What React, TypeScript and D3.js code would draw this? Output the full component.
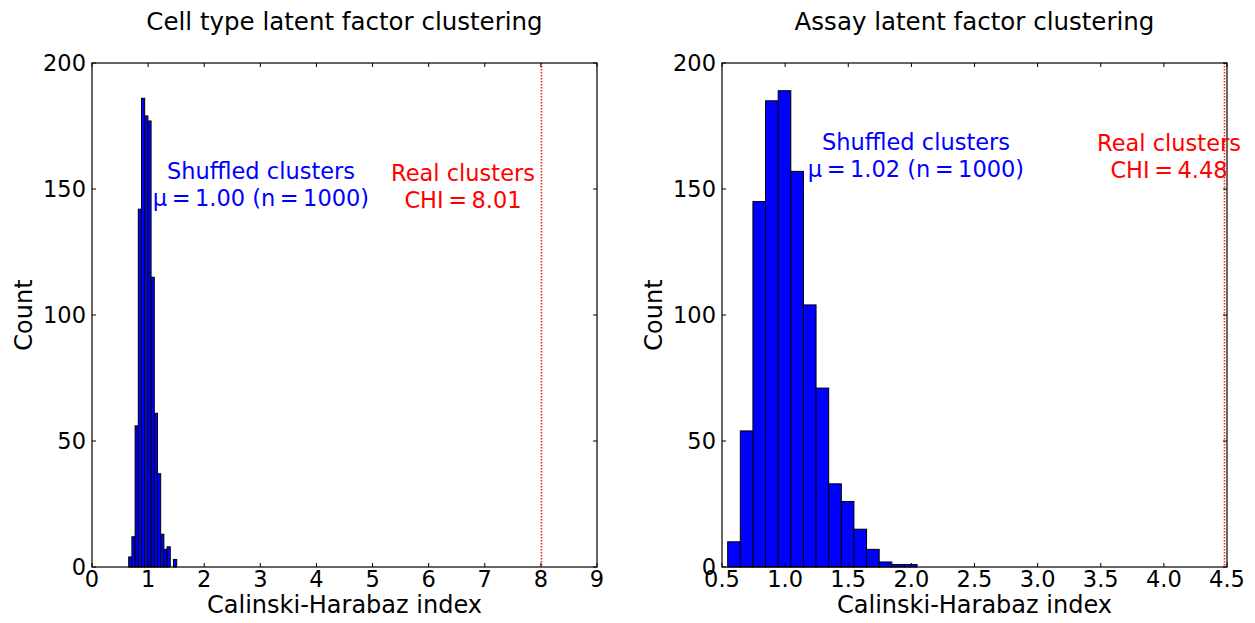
import React from "react";
import * as d3 from "d3";

// Left panel: cell type
const leftTitle = "Cell type latent factor clustering";
const leftEdges = [0.654, 0.711, 0.768, 0.825, 0.882, 0.939, 0.996, 1.053, 1.110, 1.167, 1.224, 1.281, 1.338, 1.395, 1.452, 1.509];
const leftCounts = [4, 12, 56, 142, 186, 179, 177, 115, 61, 37, 13, 7, 8, 0, 3];
const leftXTicks = [0, 1, 2, 3, 4, 5, 6, 7, 8, 9];
const leftReal = 8.01;
const leftMu = "1.00";

// Right panel: assay
const rightTitle = "Assay latent factor clustering";
const rightEdges = [0.545, 0.645, 0.745, 0.845, 0.945, 1.045, 1.145, 1.245, 1.345, 1.445, 1.545, 1.645, 1.745, 1.845, 1.945, 2.045];
const rightCounts = [10, 54, 145, 185, 189, 157, 104, 71, 33, 26, 15, 7, 2, 1, 1];
const rightXTicks = [0.5, 1.0, 1.5, 2.0, 2.5, 3.0, 3.5, 4.0, 4.5];
const rightReal = 4.48;
const rightMu = "1.02";

const yTicks = [0, 50, 100, 150, 200];
const nPerm = 1000;

const FONT = "DejaVu Sans, Verdana, sans-serif";
const TS = "\u2009"; // thin space around "="

type PanelProps = {
  left: number;
  title: string;
  edges: number[];
  counts: number[];
  xTicks: number[];
  xDomain: [number, number];
  fmt: (v: number) => string;
  real: number;
  mu: string;
  shufX: number;
  shufY: number;
  realX: number;
  realY: number;
};

function Panel(p: PanelProps) {
  const W = 505;
  const top = 63;
  const H = 504;
  const x = d3.scaleLinear().domain(p.xDomain).range([p.left, p.left + W]);
  const y = d3.scaleLinear().domain([0, 200]).range([top + H, top]);
  const tl = 4;
  const bins = p.counts.map((c, i) => ({ x0: p.edges[i], x1: p.edges[i + 1], c }));
  return (
    <g fontFamily={FONT}>
      <text x={p.left + W / 2} y={30} textAnchor="middle" fontSize={24.5} fill="#000">
        {p.title}
      </text>
      {bins.filter((b) => b.c > 0).map((b, i) => (
        <rect
          key={i}
          x={x(b.x0)}
          y={y(b.c)}
          width={x(b.x1) - x(b.x0)}
          height={y(0) - y(b.c)}
          fill="#0000ff"
          stroke="#000"
          strokeWidth={1}
        />
      ))}
      <line
        x1={x(p.real)}
        x2={x(p.real)}
        y1={top}
        y2={top + H}
        stroke="#ff2020"
        strokeWidth={1.6}
        strokeDasharray="1.6,1.4"
      />
      <rect x={p.left} y={top} width={W} height={H} fill="none" stroke="#000" strokeWidth={1.2} />
      {p.xTicks.map((t, i) => (
        <g key={"x" + i}>
          <line x1={x(t)} x2={x(t)} y1={top + H} y2={top + H - tl} stroke="#000" />
          <line x1={x(t)} x2={x(t)} y1={top} y2={top + tl} stroke="#000" />
          <text x={x(t)} y={top + H + 20} textAnchor="middle" fontSize={22.5} fill="#000">
            {p.fmt(t)}
          </text>
        </g>
      ))}
      {yTicks.map((t, i) => (
        <g key={"y" + i}>
          <line x1={p.left} x2={p.left + tl} y1={y(t)} y2={y(t)} stroke="#000" />
          <line x1={p.left + W} x2={p.left + W - tl} y1={y(t)} y2={y(t)} stroke="#000" />
          <text x={p.left - 6} y={y(t) + 8} textAnchor="end" fontSize={22.5} fill="#000">
            {t}
          </text>
        </g>
      ))}
      <text x={p.left + W / 2} y={top + H + 46} textAnchor="middle" fontSize={24} fill="#000">
        Calinski-Harabaz index
      </text>
      <text
        transform={`translate(${p.left - 60},${top + H / 2}) rotate(-90)`}
        textAnchor="middle"
        fontSize={24}
        fill="#000"
      >
        Count
      </text>
      <text x={p.shufX} y={p.shufY} textAnchor="middle" fontSize={22.5} fill="#0000ff">
        <tspan x={p.shufX} dy={0}>Shuffled clusters</tspan>
        <tspan x={p.shufX} dy={27}>{`μ${TS}=${TS}${p.mu} (n${TS}=${TS}${nPerm})`}</tspan>
      </text>
      <text x={p.realX} y={p.realY} textAnchor="middle" fontSize={22.5} fill="#ff0000">
        <tspan x={p.realX} dy={0}>Real clusters</tspan>
        <tspan x={p.realX} dy={27}>{`CHI${TS}=${TS}${p.real.toFixed(2)}`}</tspan>
      </text>
    </g>
  );
}

export default function App() {
  return (
    <svg
      width={1255}
      height={623}
      style={{ position: "absolute", left: 0, top: 0, background: "#fff" }}
    >
      <rect x={0} y={0} width={1255} height={623} fill="#fff" />
      <Panel
        left={92}
        title={leftTitle}
        edges={leftEdges}
        counts={leftCounts}
        xTicks={leftXTicks}
        xDomain={[0, 9]}
        fmt={(v) => String(v)}
        real={leftReal}
        mu={leftMu}
        shufX={261}
        shufY={179}
        realX={463}
        realY={181}
      />
      <Panel
        left={722}
        title={rightTitle}
        edges={rightEdges}
        counts={rightCounts}
        xTicks={rightXTicks}
        xDomain={[0.5, 4.5]}
        fmt={(v) => v.toFixed(1)}
        real={rightReal}
        mu={rightMu}
        shufX={916}
        shufY={150}
        realX={1169}
        realY={151}
      />
    </svg>
  );
}
